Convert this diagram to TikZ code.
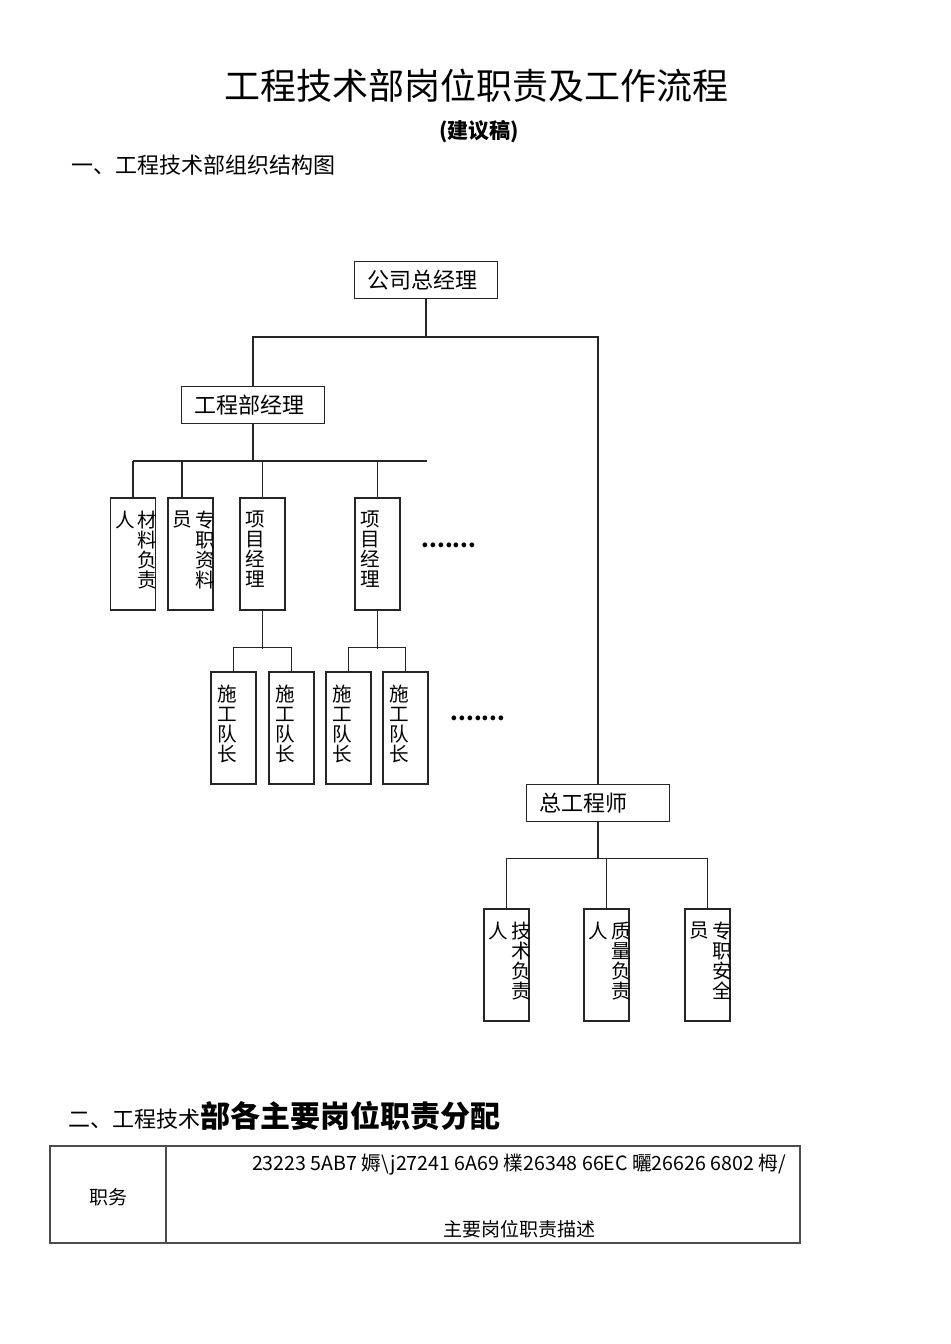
\documentclass[tikz,border=0pt]{standalone}
\usepackage{fontspec}
\setmainfont{Noto Sans CJK SC}
\begin{document}
\begin{tikzpicture}[x=.5pt, y=-.5pt, line width=.6pt, draw=black!85,
  every node/.style={font=\fontsize{11}{13}\selectfont},
  hbox/.style={draw, minimum height=18.5pt, text width=58.5pt, inner xsep=6.5pt, align=left},
  vbox/.style={draw, minimum width=22.5pt, minimum height=56pt, inner sep=0pt},
  vtxt/.style={anchor=north, align=center, inner sep=0pt, font=\fontsize{9.8}{10}\selectfont},
  dots/.style={font=\bfseries\fontsize{11}{11}\selectfont}]
  \useasboundingbox (0,0) rectangle (950,1344);
  % headings
  \node[font=\fontsize{18}{20}\selectfont] (title) at (476,86) {工程技术部岗位职责及工作流程};
  \node[font=\bfseries\fontsize{10.5}{12}\selectfont] (draft) at (479,132) {(建议稿)};
  \node[anchor=west] (sec1) at (64,165) {一、工程技术部组织结构图};
  % chart
  \node[hbox] (gm) at (426,280) {公司总经理};
  \node[hbox] (pm) at (253,405) {工程部经理};
  \node[hbox] (ce) at (598,803) {总工程师};
  \foreach \n/\x in {mat/133, doc/190.5, xm1/262.5, xm2/377.5}
    \node[vbox] (\n) at (\x,554) {};
  \foreach \n/\x in {tl1/233.5, tl2/291.5, tl3/348.5, tl4/405.5}
    \node[vbox] (\n) at (\x,728) {};
  \foreach \n/\x in {te/506.5, qe/606.5, se/707.5}
    \node[vbox] (\n) at (\x,965) {};
  % text in the narrow boxes
  \foreach \n/\a/\b in {mat/材\\料\\负\\责/人, doc/专\\职\\资\\料/员,
      te/技\\术\\负\\责/人, qe/质\\量\\负\\责/人, se/专\\职\\安\\全/员} {
    \node[vtxt] (\n-r) at ([xshift=7.25pt, yshift=-6.5pt]\n.north) {\a};
    \node[vtxt] (\n-l) at ([xshift=-4pt, yshift=-6.5pt]\n.north) {\b};
  }
  \foreach \n in {xm1, xm2}
    \node[vtxt] (\n-t) at ([xshift=-3.75pt, yshift=-6.5pt]\n.north) {项\\目\\经\\理};
  \foreach \n in {tl1, tl2, tl3, tl4}
    \node[vtxt] (\n-t) at ([xshift=-3.25pt, yshift=-6.5pt]\n.north) {施\\工\\队\\长};
  \node[dots] (more1) at (449,545) {.......};
  \node[dots] (more2) at (478,718) {.......};
  % connectors
  \coordinate (busend) at (427,461);
  \draw (gm.south) -- (gm.south |- 0,337) -| (pm.north);
  \draw (gm.south |- 0,337) -| (ce.north);
  \draw (pm.south) -- (pm.south |- 0,461);
  \draw (mat.north |- busend) -- (busend);
  \foreach \n in {mat, xm1, xm2}
    \draw (\n.north) -- (\n.north |- busend);
  \draw ([xshift=-4.25pt]doc.north) -- ([xshift=-4.25pt]doc.north |- busend);
  \draw (xm1.south) -- ++(0,38);
  \draw (tl1.north) -- ++(0,-24) -| (tl2.north);
  \draw (xm2.south) -- ++(0,38);
  \draw (tl3.north) -- ++(0,-24) -| (tl4.north);
  \draw (ce.south) -- ++(0,37);
  \draw (te.north) -- ++(0,-50) -| (se.north);
  \draw (qe.north) -- ++(0,-50);
  % section two
  \node[anchor=base west, inner sep=0pt] (sec2) at (68,1127)
    {二、工程技术{\bfseries\fontsize{15}{17}\selectfont 部各主要岗位职责分配}};
  \draw[draw=black!70] (50,1146) rectangle (800,1243);
  \draw[draw=black!70] (166,1146) -- (166,1243);
  \node[font=\fontsize{9.5}{11}\selectfont] (duty) at (108,1197) {职务};
  \node[font=\fontsize{9.8}{11}\selectfont] (code) at (519,1165)
    {23223 5AB7 媷\textbackslash j27241 6A69 檏26348 66EC 曬26626 6802 栂/};
  \node[font=\fontsize{9.5}{11}\selectfont] (desc) at (519,1229) {主要岗位职责描述};
\end{tikzpicture}
\end{document}
